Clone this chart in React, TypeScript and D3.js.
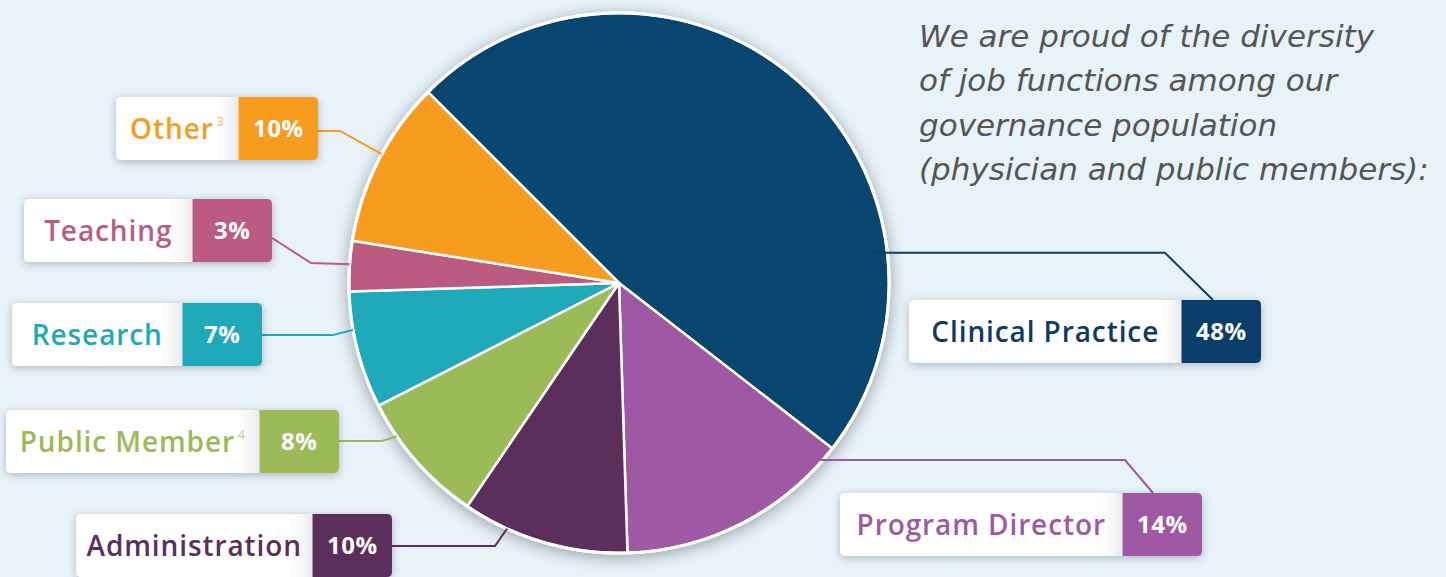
import React from "react";
import * as d3 from "d3";

const categories = ["Clinical Practice", "Program Director", "Administration", "Public Member", "Research", "Teaching", "Other"];
const values = [48, 14, 10, 8, 7, 3, 10];
const superscripts = ["", "", "", "4", "", "", "3"];
const colors = ["#084670", "#9e58a4", "#5b2e5c", "#9cbb58", "#1fa9b9", "#bc5b80", "#f79c1f"];
const boxColors = ["#0b3d6b", "#9e58a4", "#5b2e5c", "#9cbb58", "#1fa9b9", "#bc5b80", "#f79c1f"];
const textColors = ["#0e3a66", "#9e58a4", "#5b2e5c", "#9cbb58", "#1fa9b9", "#bc5b80", "#f79c1f"];
const introLines = [
  "We are proud of the diversity",
  "of job functions among our",
  "governance population",
  "(physician and public members):",
];

// layout (positions only)
const W = 1446, H = 577;
const CX = 619, CY = 283, R = 270;
const BOX_H = 63, PCT_W = 79.5;
const boxes = [
  { x: 909, y: 300, w: 352 },
  { x: 840, y: 493, w: 362 },
  { x: 76, y: 514, w: 316 },
  { x: 6, y: 410, w: 333 },
  { x: 12, y: 303, w: 250 },
  { x: 24, y: 199, w: 248 },
  { x: 116, y: 97, w: 202 },
];
const leaders = [
  { ax: 1213, ay: 300, ex: 1165, angle: 83.1, rf: 0.93, horizFromAnchor: true },
  { ax: 1153, ay: 493, ex: 1125, angle: 131.5, rf: 0.99, horizFromAnchor: true },
  { ax: 392, ay: 546, ex: 495, angle: 204.5, rf: 1, horizFromAnchor: false },
  { ax: 339, ay: 441, ex: 382, angle: 235.4, rf: 1, horizFromAnchor: false },
  { ax: 262, ay: 335, ex: 333, angle: 260, rf: 1, horizFromAnchor: false },
  { ax: 272, ay: 238, ex: 311, ey: 263, angle: 274, rf: 1, horizFromAnchor: true },
  { ax: 318, ay: 131, ex: 340, angle: 298.5, rf: 1, horizFromAnchor: false },
];

export default function App() {
  const pie = d3
    .pie<number>()
    .value((d) => d)
    .sort(null)
    .startAngle(-Math.PI / 4)
    .endAngle(2 * Math.PI - Math.PI / 4);
  const arcs = pie(values);
  const arc = d3.arc<d3.PieArcDatum<number>>().innerRadius(0).outerRadius(R);

  const font = "'Open Sans', Lato, sans-serif";
  const introFont = "'DejaVu Sans', 'Open Sans', sans-serif";

  const leaderPath = (i: number) => {
    const l: any = leaders[i];
    const a = (l.angle * Math.PI) / 180;
    const px = CX + R * l.rf * Math.sin(a);
    const py = CY - R * l.rf * Math.cos(a);
    const ey = l.horizFromAnchor ? (l.ey !== undefined ? l.ey : py) : l.ay;
    return d3.line()([
      [l.ax, l.ay],
      [l.ex, ey],
      [px, py],
    ]) as string;
  };

  return (
    <svg
      width={W}
      height={H}
      style={{ position: "absolute", left: 0, top: 0, display: "block" }}
      xmlns="http://www.w3.org/2000/svg"
    >
      <defs>
        <filter id="pieShadow" x="-20%" y="-20%" width="140%" height="140%">
          <feDropShadow dx="0" dy="3" stdDeviation="8" floodColor="#000" floodOpacity="0.35" />
        </filter>
        <filter id="boxShadow" x="-20%" y="-40%" width="140%" height="180%">
          <feDropShadow dx="0" dy="2" stdDeviation="4" floodColor="#000" floodOpacity="0.25" />
        </filter>
        <linearGradient id="whiteShade" x1="0" x2="1" y1="0" y2="0">
          <stop offset="0" stopColor="#ffffff" stopOpacity="0" />
          <stop offset="1" stopColor="#c9ced3" stopOpacity="0.45" />
        </linearGradient>
      </defs>
      <rect x={0} y={0} width={W} height={H} fill="#e7f2f9" />

      <g filter="url(#pieShadow)">
        <circle cx={CX} cy={CY} r={R + 1.5} fill="#ffffff" />
      </g>
      <g transform={`translate(${CX},${CY})`}>
        {arcs.map((a, i) => (
          <path key={i} d={arc(a) as string} fill={colors[i]} stroke="#ffffff" strokeWidth={2.5} strokeLinejoin="round" />
        ))}
        <circle r={R} fill="none" stroke="#ffffff" strokeWidth={3} />
      </g>

      {categories.map((c, i) => (
        <path key={"l" + i} d={leaderPath(i)} fill="none" stroke={boxColors[i]} strokeWidth={2} />
      ))}

      {categories.map((c, i) => {
        const b = boxes[i];
        const whiteW = b.w - PCT_W;
        const px = b.x + whiteW;
        const rr = 5;
        const colored = `M${px},${b.y} H${b.x + b.w - rr} Q${b.x + b.w},${b.y} ${b.x + b.w},${b.y + rr} V${b.y + BOX_H - rr} Q${b.x + b.w},${b.y + BOX_H} ${b.x + b.w - rr},${b.y + BOX_H} H${px} Z`;
        const cy = b.y + BOX_H / 2;
        return (
          <g key={"b" + i}>
            <rect x={b.x} y={b.y} width={b.w} height={BOX_H} rx={rr} fill="#ffffff" filter="url(#boxShadow)" />
            <rect x={px - 28} y={b.y} width={28} height={BOX_H} fill="url(#whiteShade)" />
            <path d={colored} fill={boxColors[i]} />
            <text
              x={b.x + whiteW / 2}
              y={cy + 10}
              textAnchor="middle"
              fontFamily={font}
              fontSize={28}
              fontWeight={600}
              letterSpacing={0.9}
              fill={textColors[i]}
            >
              {c}
              {superscripts[i] && (
                <tspan dx={3} dy={-13} fontSize={12} fontWeight={400} fillOpacity={0.7}>
                  {superscripts[i]}
                </tspan>
              )}
            </text>
            <text
              x={px + PCT_W / 2}
              y={cy + 8.5}
              textAnchor="middle"
              fontFamily={font}
              fontSize={24}
              fontWeight={700}
              letterSpacing={0.5}
              fill="#ffffff"
            >
              {values[i] + "%"}
            </text>
          </g>
        );
      })}

      <text fontFamily={introFont} fontStyle="italic" fontSize={31} fontWeight={400} fill="#555555">
        {introLines.map((t, i) => (
          <tspan key={i} x={919} y={47 + i * 44.3}>
            {t}
          </tspan>
        ))}
      </text>
    </svg>
  );
}
